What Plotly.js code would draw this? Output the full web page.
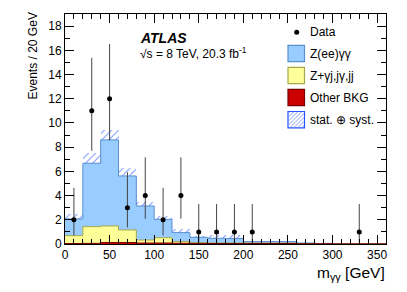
<!DOCTYPE html>
<html>
<head>
<meta charset="utf-8">
<script src="https://cdn.plot.ly/plotly-3.0.1.min.js"></script>
<style>html,body{margin:0;padding:0;background:#fff;}#chart{width:407px;height:292px;}</style>
</head>
<body>
<div id="chart"></div>
<script>
// ---- data ----
const binEdges = [0,20,40,60,80,100,120,140,160,180,200,220,240,260,280,300,320,340,360];
const zeeGG   = [1.38,5.24,7.11,4.46,2.81,1.52,0.74,0.45,0.39,0.37,0.12,0.12,0.12,0.04,0.02,0.01,0.00,0.00];
const zjets   = [0.65,1.38,1.37,1.04,0.25,0.44,0.14,0.05,0.04,0.04,0.04,0.04,0.04,0.02,0.01,0.01,0.01,0.01];
const otherBkg= [0.04,0.05,0.12,0.12,0.08,0.08,0.06,0.05,0.04,0.04,0.04,0.04,0.04,0.02,0.02,0.01,0.01,0.01];
const totErr  = [0.40,0.83,0.83,0.63,0.36,0.28,0.30,0.15,0.30,0.30,0.08,0.08,0.08,0.03,0.02,0.01,0.01,0.01];
const dataX   = [10,30,50,70,90,110,130,150,170,190,210,330];
const dataY   = [2,11,12,3,4,2,4,1,1,1,1,1];
const dataErrUp  = [2.64,4.38,4.53,2.92,3.16,2.64,3.16,2.30,2.30,2.30,2.30,2.30];
const dataErrDn  = [1.29,3.30,3.44,1.63,1.91,1.29,1.91,0.83,0.83,0.83,0.83,0.83];
const legendLabels = ["Data","Z(ee)\u03b3\u03b3","Z+\u03b3j,j\u03b3,jj","Other BKG","stat. \u2295 syst."];

// ---- derived ----
const nb = zeeGG.length;
const cumRed = otherBkg.slice();
const cumYel = otherBkg.map((v,i)=>v+zjets[i]);
const total  = cumYel.map((v,i)=>v+zeeGG[i]);
const centers = binEdges.slice(0,nb).map((e,i)=>(e+binEdges[i+1])/2);
const widths  = binEdges.slice(0,nb).map((e,i)=>binEdges[i+1]-e);
function step(vals){ return vals.concat([vals[vals.length-1]]); }

const FONT = "Liberation Sans, Arial, Helvetica, sans-serif";

const traces = [
  { type:'bar', x:centers, width:widths, base: total.map((t,i)=>t-totErr[i]), y: totErr.map(e=>2*e),
    marker:{color:'rgba(0,0,0,0)', line:{width:0},
      pattern:{shape:'/', fgcolor:'#6b8cff', bgcolor:'rgba(0,0,0,0)', size:5, solidity:0.18}},
    showlegend:false, hoverinfo:'skip' },
  { type:'scatter', mode:'lines', x:binEdges, y:step(total), line:{shape:'hv', color:'#5a8fd0', width:1},
    fill:'tozeroy', fillcolor:'#99ccff', showlegend:false },
  { type:'scatter', mode:'lines', x:binEdges, y:step(cumYel), line:{shape:'hv', color:'#a8a84c', width:1},
    fill:'tozeroy', fillcolor:'#ffff99', showlegend:false },
  { type:'scatter', mode:'lines', x:binEdges, y:step(cumRed), line:{shape:'hv', color:'#7a0000', width:1},
    fill:'tozeroy', fillcolor:'#cc0000', showlegend:false },
  { type:'scatter', mode:'markers', x:dataX, y:dataY,
    marker:{color:'#000', size:5},
    error_y:{type:'data', symmetric:false, array:dataErrUp, arrayminus:dataErrDn, color:'#444', thickness:1, width:0},
    showlegend:false }
];

// ---- legend & labels (pixel helpers) ----
const L=65, R=386, T=14, B=244;
const px = x => (x-L)/(R-L);
const py = y => (B-y)/(B-T);
const shapes = [];
const annotations = [];
const boxX0=288, boxX1=304.5;
const rows=[32.3,53.5,75.5,97.5,119.7];
const boxStyles=[null,
  {fill:'#99ccff', line:'#5a8fd0'},
  {fill:'#ffff99', line:'#a8a84c'},
  {fill:'#cc0000', line:'#7a0000'},
  {fill:'rgba(255,255,255,1)', line:'#1f4fff'}];
shapes.push({type:'circle', xref:'paper', yref:'paper', x0:px(296.7-2.5), x1:px(296.7+2.5), y0:py(rows[0]+2.5), y1:py(rows[0]-2.5), fillcolor:'#000', line:{width:0}});
for(let k=1;k<5;k++){
  const y0=rows[k]-8.2, y1=rows[k]+8.2;
  shapes.push({type:'rect', xref:'paper', yref:'paper', x0:px(boxX0), x1:px(boxX1), y0:py(y1), y1:py(y0),
    fillcolor:boxStyles[k].fill, line:{color:boxStyles[k].line, width:1.2}});
  if(k===4){
    const w=boxX1-boxX0, h=y1-y0, s=4;
    for(let c=-h+s/2;c<w;c+=s){
      const u0=Math.max(0,c), u1=Math.min(w,h+c);
      if(u1<=u0) continue;
      const v0=u0-c, v1=u1-c;
      shapes.push({type:'line', xref:'paper', yref:'paper', x0:px(boxX0+u0), y0:py(y1-v0), x1:px(boxX0+u1), y1:py(y1-v1), line:{color:'#6b8cff', width:0.8}});
    }
  }
}
for(let k=0;k<5;k++){
  annotations.push({xref:'paper', yref:'paper', x:px(307.5), y:py(rows[k]), xanchor:'left', yanchor:'middle',
    text:legendLabels[k], showarrow:false, font:{family:FONT, size:12, color:'#000'}});
}
annotations.push({xref:'paper', yref:'paper', x:px(137.5), y:py(38), xanchor:'left', yanchor:'middle',
  text:'<b><i>ATLAS</i></b>', showarrow:false, font:{family:FONT, size:14, color:'#000'}});
annotations.push({xref:'paper', yref:'paper', x:px(137.5), y:py(53), xanchor:'left', yanchor:'middle',
  text:'\u221as = 8 TeV, 20.3 fb<sup>-1</sup>', showarrow:false, font:{family:FONT, size:12, color:'#000'}});
annotations.push({xref:'paper', yref:'paper', x:px(387), y:py(273), xanchor:'right', yanchor:'middle',
  text:'m<sub>\u03b3\u03b3</sub> [GeV]', showarrow:false, font:{family:FONT, size:15.5, color:'#000'}});
annotations.push({xref:'paper', yref:'paper', x:px(32), y:py(56.5), xanchor:'center', yanchor:'middle', textangle:-90,
  text:'Events / 20 GeV', showarrow:false, font:{family:FONT, size:12, color:'#000'}});

const layout = {
  width:407, height:292,
  margin:{l:L, r:407-R, t:T, b:292-B, pad:0},
  paper_bgcolor:'#fff', plot_bgcolor:'#fff',
  barmode:'overlay', bargap:0,
  showlegend:false,
  font:{family:FONT, size:12, color:'#000'},
  xaxis:{range:[0,360], dtick:50, tick0:0, ticks:'inside', ticklen:9, tickwidth:1, tickcolor:'#000',
    showline:true, linecolor:'#000', linewidth:1, mirror:'allticks', showgrid:false, zeroline:false,
    minor:{dtick:10, ticks:'inside', ticklen:5, tickcolor:'#000', showgrid:false},
    tickfont:{family:FONT, size:12, color:'#000'}},
  yaxis:{range:[0,19], dtick:2, tick0:0, ticks:'inside', ticklen:9, tickwidth:1, tickcolor:'#000',
    showline:true, linecolor:'#000', linewidth:1, mirror:'allticks', showgrid:false, zeroline:false,
    minor:{dtick:1, ticks:'inside', ticklen:5, tickcolor:'#000', showgrid:false},
    tickfont:{family:FONT, size:12, color:'#000'}},
  shapes:shapes, annotations:annotations
};
Plotly.newPlot('chart', traces, layout, {staticPlot:true, displayModeBar:false});
</script>
</body>
</html>
